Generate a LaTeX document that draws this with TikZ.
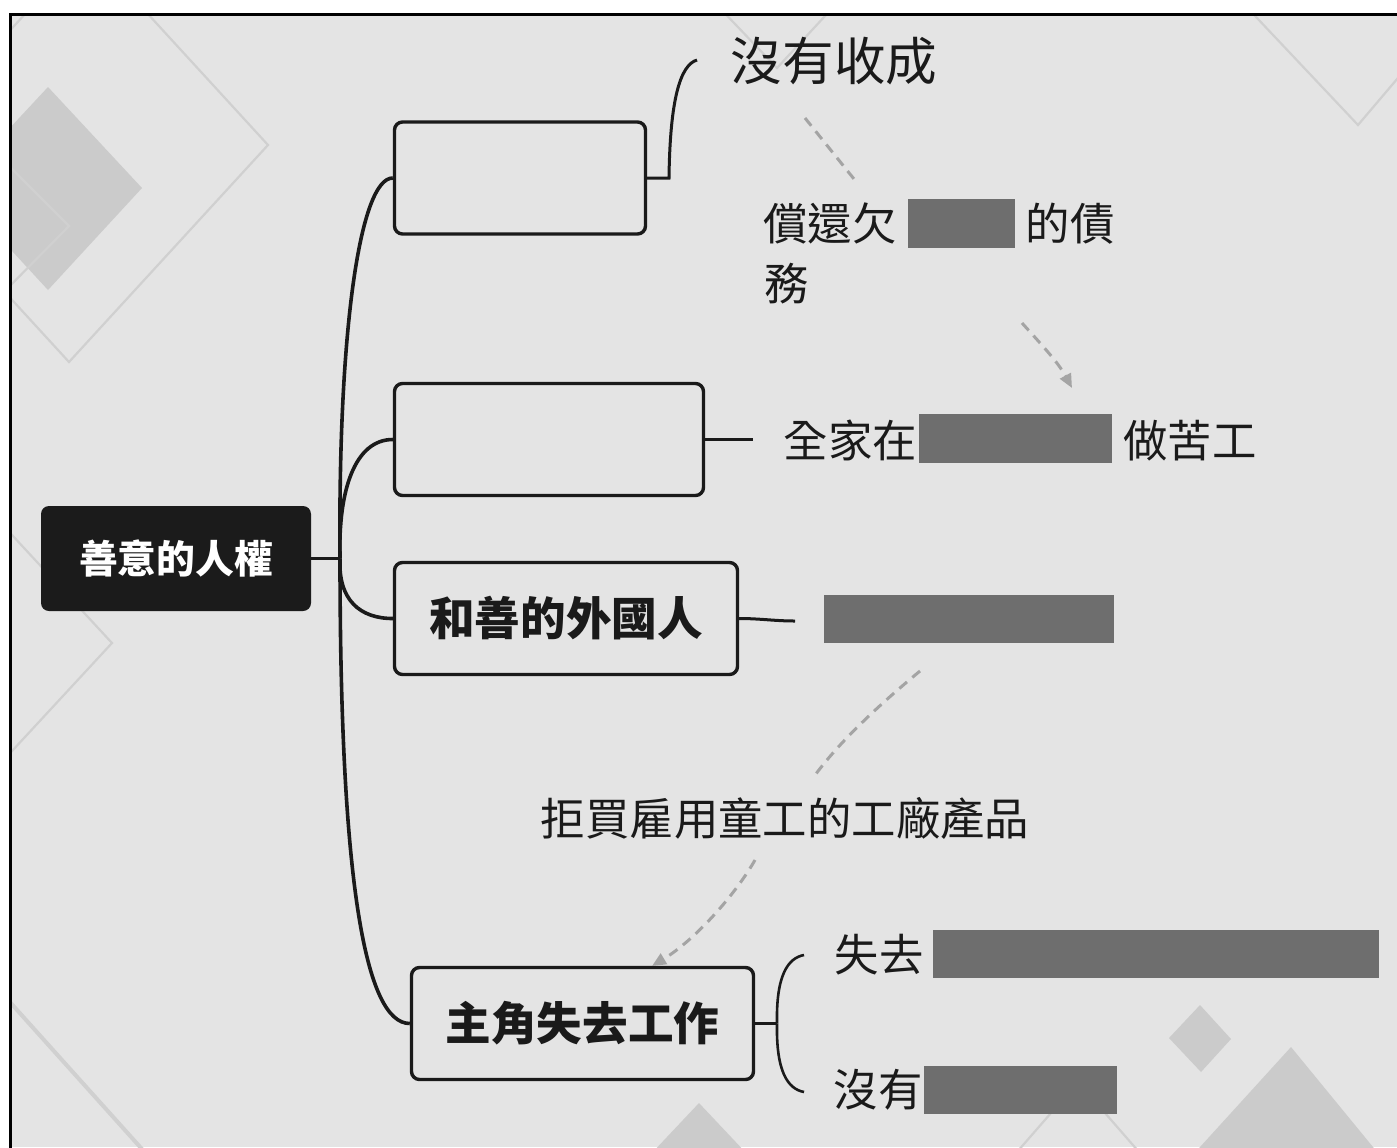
\documentclass[tikz,border=0pt]{standalone}
\usepackage{fontspec}
\newfontfamily\cjk{Noto Sans CJK TC}
\usetikzlibrary{arrows.meta}
\definecolor{bg}{HTML}{E4E4E4}
\definecolor{deco}{HTML}{CBCBCB}
\definecolor{decoline}{HTML}{D0D0D0}
\definecolor{blank}{HTML}{6E6E6E}
\definecolor{ink}{HTML}{1A1A1A}
\definecolor{rootfill}{HTML}{1B1B1B}
\definecolor{dashgray}{HTML}{A4A4A4}
\begin{document}
\begin{tikzpicture}[x=0.5pt,y=-0.5pt,
  topicbox/.style={draw=ink, line width=1.7pt, rounded corners=4pt, fill=bg, inner sep=0pt, minimum height=56pt, text=ink, font=\cjk\bfseries\fontsize{22.8pt}{25pt}\selectfont},
  rootbox/.style={fill=rootfill, rounded corners=4pt, inner sep=0pt, text=white, font=\cjk\bfseries\fontsize{19.4pt}{21pt}\selectfont, minimum width=135pt, minimum height=52.5pt},
  branch/.style={draw=ink, line width=1.8pt},
  bracelink/.style={draw=ink, line width=1.3pt},
  leaf/.style={inner sep=0pt, text=ink, font=\cjk\fontsize{22.2pt}{24pt}\selectfont},
  blankbox/.style={fill=blank, draw=none, inner sep=0pt, outer sep=0pt},
  relline/.style={draw=dashgray, line width=1.5pt, dash pattern=on 5pt off 3.5pt},
  reltip/.style={-{Triangle[length=7pt,width=6pt]}},
  decofill/.style={fill=deco, draw=none},
  decoln/.style={draw=decoline, line width=1.1pt},
]
\useasboundingbox (0,0) rectangle (1397,1147);
\fill[white] (0,0) rectangle (1397,1147);
% background and decorations
\begin{scope}
\clip (11,15) rectangle (1397,1147);
\fill[bg] (11,15) rectangle (1397,1147);
\path[decofill] (48,87) -- (142,188) -- (48,290) -- (-46,188) -- cycle;
\path[decoln] (86.5,-53) -- (268,145) -- (69,362) -- (-112.5,164) -- cycle;
\path[decoln] (0,157) -- (69,226) -- (0,296);
\path[decoln] (0,522) -- (112,643) -- (0,764);
\path[decoln, line width=2pt] (0,991) -- (150,1158);
\path[decoln] (715,3) -- (777,68) -- (837,3);
\path[decoln] (1240,0) -- (1358,125) -- (1420,52);
\path[decofill] (699,1103) -- (748,1155) -- (650,1155) -- cycle;
\path[decofill] (1200,1005) -- (1231,1039) -- (1201,1072) -- (1169,1038) -- cycle;
\path[decofill] (1291,1047) -- (1382,1158) -- (1190,1158) -- cycle;
\path[decoln] (1010,1160) -- (1078,1082) -- (1146,1160);
\end{scope}
\draw[black, line width=1.5pt] (10.5,1160) -- (10.5,14.5) -- (1410,14.5);

% topic nodes
\node[rootbox] (root) at (176,558.5) {善意的人權};
\node[topicbox, minimum width=125.5pt] (b1) at (520,178) {};
\node[topicbox, minimum width=154.5pt] (b2) at (549,439.5) {};
\node[topicbox, minimum width=171.5pt] (b3) at (566,618.5) {和善的外國人};
\node[topicbox, minimum width=171pt] (b4) at (582.5,1023.5) {主角失去工作};

% leaf texts and blanks
\node[leaf, font=\cjk\fontsize{25.8pt}{28pt}\selectfont] (n1) at (834,61.5) {沒有收成};
\node[leaf] (n2a) at (830,223.5) {償還欠};
\node[blankbox, minimum width=53.5pt, minimum height=24.5pt] (g1) at (961.5,223.5) {};
\node[leaf] (n2b) at (1070,223.5) {的債};
\node[leaf] (n2c) at (786.5,283.5) {務};
\node[leaf] (n3a) at (850.5,440.5) {全家在};
\node[blankbox, minimum width=96.5pt, minimum height=24.5pt] (g2) at (1015.5,438.5) {};
\node[leaf] (n3b) at (1190,440.5) {做苦工};
\node[blankbox, minimum width=145pt, minimum height=24pt] (g3) at (969,619) {};
\node[leaf] (n4) at (785,818.5) {拒買雇用童工的工廠產品};
\node[leaf] (n5a) at (879,955) {失去};
\node[blankbox, minimum width=223pt, minimum height=24pt] (g4) at (1156,954) {};
\node[leaf] (n6a) at (878,1090) {沒有};
\node[blankbox, minimum width=96.5pt, minimum height=24pt] (g5) at (1020.5,1090) {};

% main branches
\coordinate (J) at (340,558.5);
\draw[branch] (root.east) -- (J);
\draw[branch] (J) .. controls (338,330) and (360,178) .. (b1.west);
\draw[branch] (J) .. controls (338,490) and (355,439.5) .. (b2.west);
\draw[branch] (J) .. controls (338,600) and (360,618.5) .. (b3.west);
\draw[branch] (J) .. controls (340,880) and (365,1023.5) .. (b4.west);

% leaf connectors
\coordinate (t1) at (697,60);
\coordinate (t1a) at (669,178);
\draw[branch, line width=1.5pt] (b1.east) -- (t1a) .. controls (670,100) and (680,65) .. (t1);
\coordinate (t2) at (753,439.5);
\draw[branch, line width=1.5pt] (b2.east) -- (t2);
\coordinate (t3) at (795,621);
\draw[branch, line width=1.5pt] (b3.east) .. controls (760,618.5) and (775,621) .. (t3);
\coordinate (bj) at (777,1023.5);
\draw[bracelink] (b4.east) -- (bj);
\draw[bracelink] (bj) .. controls (776,975) and (788,958) .. (804,955);
\draw[bracelink] (bj) .. controls (776,1072) and (788,1089) .. (804,1092);

% relation arrows
\coordinate (d1s) at (805,118);
\coordinate (d1e) at (858,184);
\coordinate (d2s) at (1022,323);
\coordinate (d2e) at (1072,388);
\draw[relline] (d1s) -- (d1e);
\draw[relline, reltip] (d2s) .. controls (1040,343) and (1058,362) .. (d2e);
\coordinate (e1s) at (920,671);
\coordinate (e1e) at (813,778);
\coordinate (e2s) at (755,860);
\coordinate (e2e) at (652,966);
\draw[relline] (e1s) .. controls (885,700) and (840,740) .. (e1e);
\draw[relline, reltip] (e2s) .. controls (735,895) and (695,940) .. (e2e);
\end{tikzpicture}
\end{document}
